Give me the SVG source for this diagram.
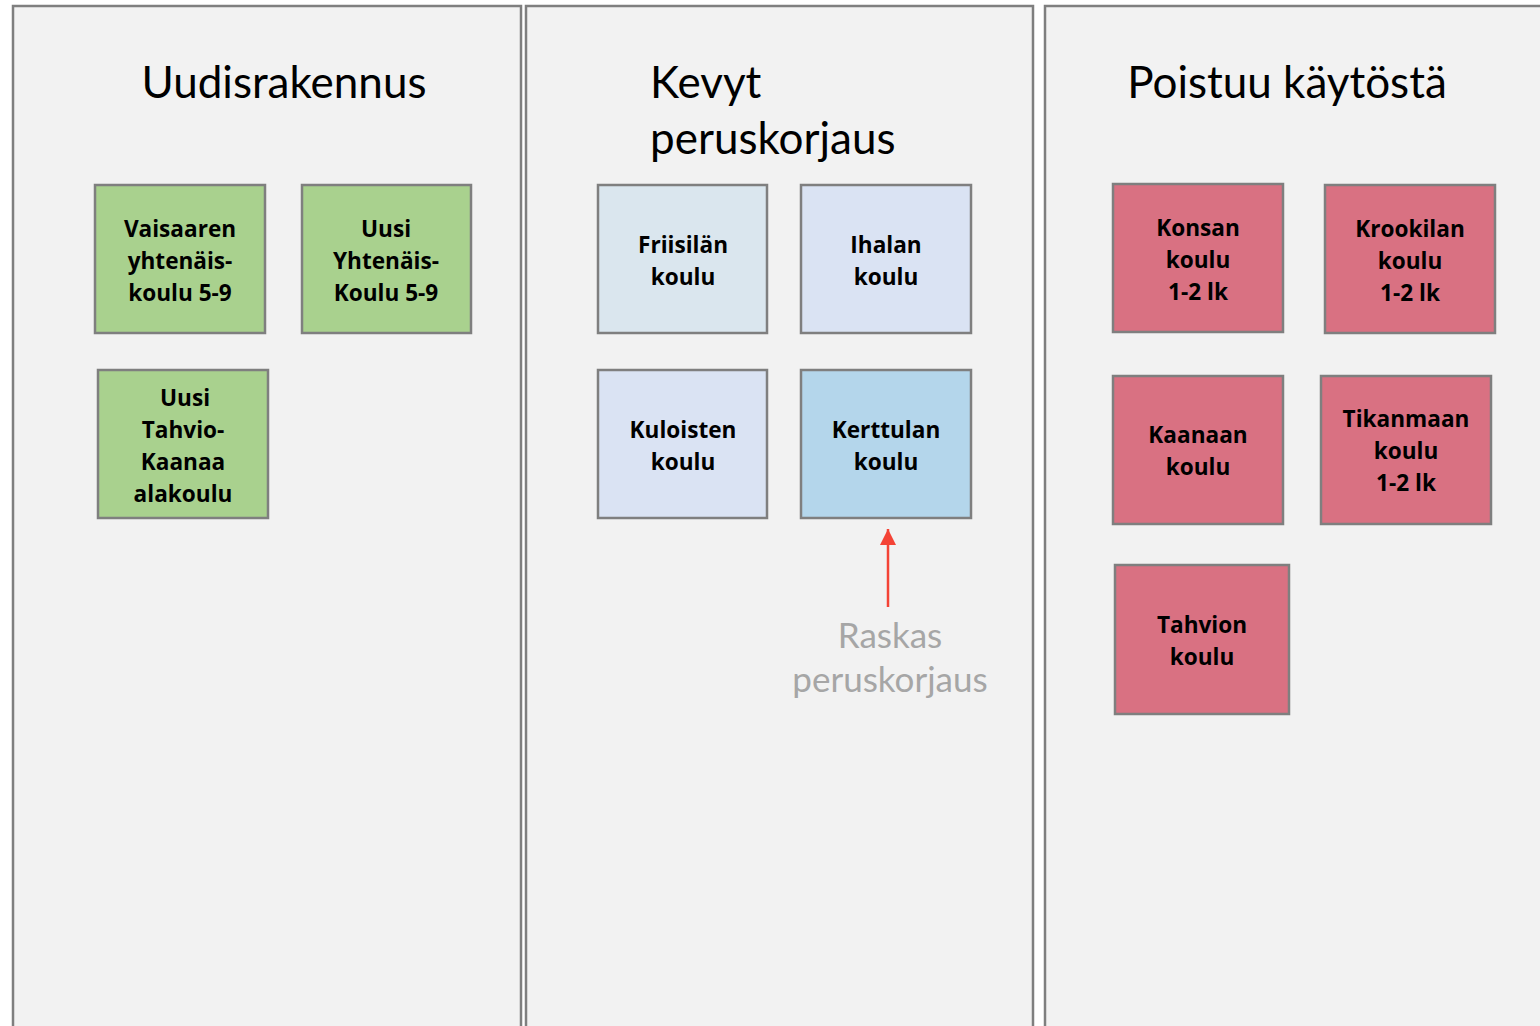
<svg xmlns="http://www.w3.org/2000/svg" width="1540" height="1026" viewBox="0 0 1540 1026">
<defs>
<style>
.panel{fill:#f2f2f2;stroke:#7f7f7f;stroke-width:2.5}
.node{stroke:#7f7f7f;stroke-width:2.5}
.green{fill:#a9d18e}
.lb1{fill:#dae6ee}
.lb2{fill:#dae3f3}
.lb3{fill:#b4d6eb}
.red{fill:#d97182}
.title{font-family:Lato,"Open Sans","Liberation Sans",sans-serif;font-size:44px;fill:#000}
.lbl{font-family:"Open Sans",Lato,"Liberation Sans",sans-serif;font-size:22.6px;font-weight:bold;fill:#000;text-anchor:middle}
.note{font-family:Lato,"Open Sans","Liberation Sans",sans-serif;font-size:35px;fill:#a6a6a6;text-anchor:middle}
</style>
<marker id="ah" viewBox="0 0 16 16" refX="16" refY="8" markerWidth="16" markerHeight="16" markerUnits="userSpaceOnUse" orient="auto">
<path d="M0,0 L16,8 L0,16 z" fill="#f44336"/>
</marker>
</defs>
<rect width="1540" height="1026" fill="#ffffff"/>
<g id="panel-uudis">
<rect class="panel" x="13" y="6" width="508" height="1030"/>
<text class="title" x="284" y="98" text-anchor="middle">Uudisrakennus</text>
</g>
<g id="panel-kevyt">
<rect class="panel" x="526" y="6" width="507" height="1030"/>
<text class="title" x="650" y="98">Kevyt</text>
<text class="title" x="650" y="154">peruskorjaus</text>
</g>
<g id="panel-poistuu">
<rect class="panel" x="1045" y="6" width="510" height="1030"/>
<text class="title" x="1287" y="98" text-anchor="middle">Poistuu käytöstä</text>
</g>
<g id="n-vaisaaren">
<rect class="node green" x="95" y="185" width="170" height="148"/>
<text class="lbl" x="180" y="237">Vaisaaren</text>
<text class="lbl" x="180" y="269">yhtenäis-</text>
<text class="lbl" x="180" y="301">koulu 5-9</text>
</g>
<g id="n-uusi-yhtenais">
<rect class="node green" x="302" y="185" width="169" height="148"/>
<text class="lbl" x="386" y="237">Uusi</text>
<text class="lbl" x="386" y="269">Yhtenäis-</text>
<text class="lbl" x="386" y="301">Koulu 5-9</text>
</g>
<g id="n-uusi-tahvio">
<rect class="node green" x="98" y="370" width="170" height="148"/>
<text class="lbl" x="185" y="406">Uusi</text>
<text class="lbl" x="183" y="438">Tahvio-</text>
<text class="lbl" x="183" y="470">Kaanaa</text>
<text class="lbl" x="183" y="502">alakoulu</text>
</g>
<g id="n-friisila">
<rect class="node lb1" x="598" y="185" width="169" height="148"/>
<text class="lbl" x="683" y="253">Friisilän</text>
<text class="lbl" x="683" y="285">koulu</text>
</g>
<g id="n-ihala">
<rect class="node lb2" x="801" y="185" width="170" height="148"/>
<text class="lbl" x="886" y="253">Ihalan</text>
<text class="lbl" x="886" y="285">koulu</text>
</g>
<g id="n-kuloinen">
<rect class="node lb2" x="598" y="370" width="169" height="148"/>
<text class="lbl" x="683" y="438">Kuloisten</text>
<text class="lbl" x="683" y="470">koulu</text>
</g>
<g id="n-kerttula">
<rect class="node lb3" x="801" y="370" width="170" height="148"/>
<text class="lbl" x="886" y="438">Kerttulan</text>
<text class="lbl" x="886" y="470">koulu</text>
</g>
<g id="n-konsa">
<rect class="node red" x="1113" y="184" width="170" height="148"/>
<text class="lbl" x="1198" y="236">Konsan</text>
<text class="lbl" x="1198" y="268">koulu</text>
<text class="lbl" x="1198" y="300">1-2 lk</text>
</g>
<g id="n-krookila">
<rect class="node red" x="1325" y="185" width="170" height="148"/>
<text class="lbl" x="1410" y="237">Krookilan</text>
<text class="lbl" x="1410" y="269">koulu</text>
<text class="lbl" x="1410" y="301">1-2 lk</text>
</g>
<g id="n-kaanaa">
<rect class="node red" x="1113" y="376" width="170" height="148"/>
<text class="lbl" x="1198" y="443">Kaanaan</text>
<text class="lbl" x="1198" y="475">koulu</text>
</g>
<g id="n-tikanmaa">
<rect class="node red" x="1321" y="376" width="170" height="148"/>
<text class="lbl" x="1406" y="427">Tikanmaan</text>
<text class="lbl" x="1406" y="459">koulu</text>
<text class="lbl" x="1406" y="491">1-2 lk</text>
</g>
<g id="n-tahvio">
<rect class="node red" x="1115" y="565" width="174" height="149"/>
<text class="lbl" x="1202" y="633">Tahvion</text>
<text class="lbl" x="1202" y="665">koulu</text>
</g>
<g id="connectors">
<line x1="888" y1="607" x2="888" y2="529" stroke="#f44336" stroke-width="2.5" marker-end="url(#ah)"/>
</g>
<g id="note-raskas">
<text class="note" x="890" y="648">Raskas</text>
<text class="note" x="890" y="692">peruskorjaus</text>
</g>
</svg>
